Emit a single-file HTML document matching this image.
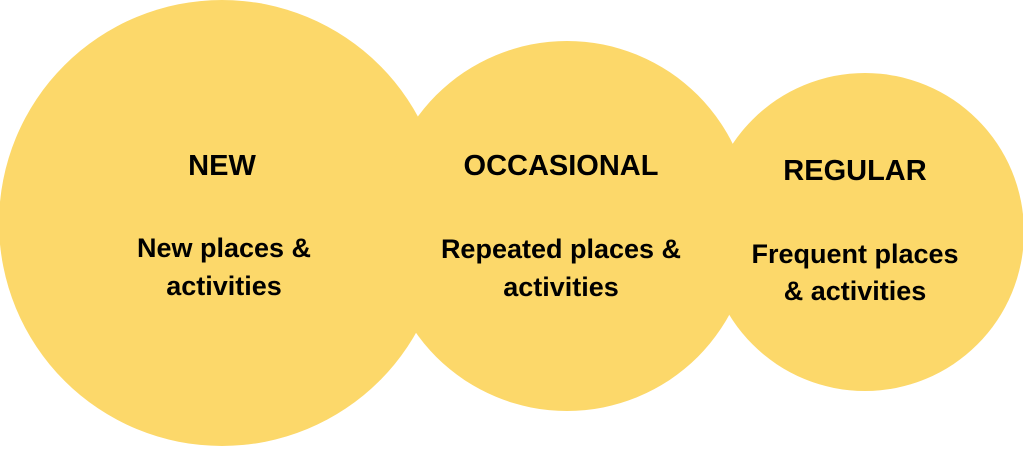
<!DOCTYPE html>
<html><head><style>
body{margin:0;width:1023px;height:447px;background:#fff;overflow:hidden}
svg text{font-family:"Liberation Sans",sans-serif;font-weight:bold;fill:#000;text-anchor:middle}
</style></head><body>
<svg width="1023" height="447" viewBox="0 0 1023 447">
<g fill="#FCD86A">
<circle cx="222" cy="223" r="223"/>
<circle cx="567" cy="226" r="185"/>
<circle cx="865" cy="232" r="159"/>
</g>
<g font-size="29">
<text x="222" y="175">NEW</text>
<text x="561" y="175">OCCASIONAL</text>
<text x="855" y="180">REGULAR</text>
</g>
<g font-size="27">
<text x="224" y="257">New places &amp;</text>
<text x="224" y="295">activities</text>
<text x="561" y="258">Repeated places &amp;</text>
<text x="561" y="296">activities</text>
<text x="855" y="263">Frequent places</text>
<text x="855" y="300">&amp; activities</text>
</g>
</svg>
</body></html>
